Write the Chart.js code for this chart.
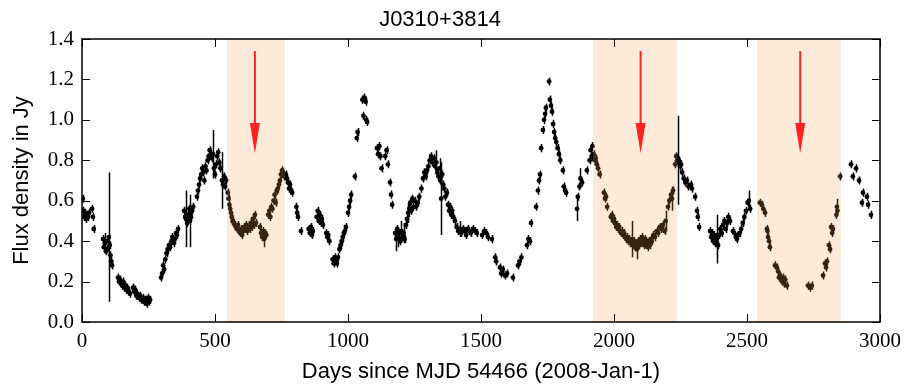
<!DOCTYPE html>
<html>
<head>
<meta charset="utf-8">
<script src="https://cdn.jsdelivr.net/npm/chart.js@4.4.0/dist/chart.umd.min.js"></script>
<style>
html,body{margin:0;padding:0;background:#fff;}
#wrap{width:906px;height:385px;}
</style>
</head>
<body>
<div id="wrap"><canvas id="c" width="906" height="385"></canvas></div>
<script>
const titleText = 'J0310+3814';
const xAxisLabel = 'Days since MJD 54466 (2008-Jan-1)';
const yAxisLabel = 'Flux density in Jy';
const xTickValues = [0, 500, 1000, 1500, 2000, 2500, 3000];
const yTickValues = [0.0, 0.2, 0.4, 0.6, 0.8, 1.0, 1.2, 1.4];

// [day, flux density in Jy]
const observations = [
  [3,0.61],[5,0.55],[8,0.52],[12,0.54],[15,0.51],[19,0.53],[23,0.52],[27,0.54],[38,0.56],[41,0.52],[44,0.46],
  [79,0.41],[82,0.37],[86,0.39],[90,0.35],[94,0.36],[97,0.40],[101,0.42],[104,0.38],[107,0.33],[110,0.30],[113,0.28],
  [135,0.22],[139,0.20],[143,0.21],[147,0.19],[151,0.18],[155,0.20],[159,0.17],[163,0.18],[167,0.16],[171,0.17],[175,0.15],[180,0.14],
  [192,0.17],[196,0.15],[200,0.16],[204,0.13],[208,0.14],[213,0.12],[218,0.13],[223,0.11],[228,0.12],[233,0.10],[238,0.11],[243,0.09],[248,0.12],[252,0.10],[256,0.11],
  [297,0.22],[301,0.24],[305,0.28],[309,0.26],[313,0.31],[318,0.34],[322,0.36],[327,0.38],[331,0.37],[336,0.40],[340,0.42],[345,0.39],[349,0.41],[353,0.44],[357,0.43],[361,0.46],
  [384,0.55],[388,0.52],[391,0.51],[395,0.49],[399,0.53],[403,0.56],[406,0.50],[410,0.52],[414,0.55],[418,0.57],
  [432,0.62],[436,0.65],[440,0.68],[444,0.71],[448,0.73],[452,0.76],[456,0.74],[460,0.70],[464,0.77],[468,0.75],[472,0.80],[476,0.82],[480,0.85],[484,0.83],[488,0.81],[492,0.83],[496,0.76],[500,0.73],[504,0.78],[508,0.82],[512,0.84],[516,0.79],[520,0.76],[526,0.70],[530,0.68],[534,0.72],[538,0.67],[542,0.70],
  [548,0.64],[551,0.61],[554,0.58],[557,0.56],[560,0.54],[563,0.52],[566,0.50],[570,0.49],[574,0.48],[578,0.47],[582,0.46],[586,0.48],[590,0.45],[594,0.44],[598,0.46],[602,0.43],[606,0.45],[610,0.47],[614,0.46],[618,0.48],[622,0.45],[626,0.47],[630,0.46],[634,0.49],[638,0.47],[642,0.51],[646,0.48],[650,0.53],[654,0.49],
  [669,0.47],[673,0.44],[677,0.42],[681,0.45],[685,0.41],[689,0.44],[693,0.43],
  [700,0.53],[704,0.55],[708,0.52],[712,0.57],[716,0.56],[720,0.60],[724,0.63],[728,0.59],[732,0.65],[736,0.66],[740,0.68],[744,0.70],[748,0.73],[752,0.75],[756,0.74],[760,0.72],
  [766,0.73],[770,0.71],[774,0.69],[778,0.66],[782,0.68],[786,0.65],[790,0.64],
  [806,0.57],[809,0.54],[812,0.52],[823,0.45],
  [852,0.46],[856,0.44],[860,0.47],[864,0.43],[868,0.45],[882,0.52],[886,0.55],[890,0.50],[894,0.53],[898,0.49],[902,0.51],[906,0.48],[918,0.44],[922,0.42],[926,0.43],[930,0.40],
  [942,0.31],[946,0.29],[950,0.32],[954,0.30],[958,0.29],[962,0.32],[968,0.36],[972,0.38],[976,0.40],[980,0.42],[984,0.44],[988,0.45],[992,0.47],[1000,0.54],[1004,0.57],[1008,0.60],[1012,0.63],
  [1026,0.72],[1033,0.91],[1036,0.94],[1054,1.10],[1058,1.02],[1062,1.11],[1066,1.09],[1068,1.00],[1072,0.99],
  [1109,0.86],[1113,0.83],[1118,0.87],[1122,0.82],[1126,0.76],[1140,0.82],[1145,0.85],[1150,0.78],[1158,0.69],[1162,0.63],[1166,0.58],
  [1177,0.44],[1181,0.41],[1185,0.46],[1189,0.42],[1193,0.44],[1197,0.40],[1201,0.45],[1205,0.42],[1209,0.44],[1213,0.41],
  [1218,0.48],[1222,0.51],[1226,0.54],[1230,0.56],[1234,0.59],[1238,0.55],[1242,0.61],[1246,0.57],[1250,0.60],[1256,0.57],[1262,0.59],[1268,0.62],
  [1276,0.66],[1282,0.71],[1287,0.74],[1292,0.72],[1297,0.75],[1302,0.77],[1307,0.80],[1312,0.82],[1317,0.79],[1322,0.81],[1327,0.77],[1332,0.79],[1336,0.74],[1340,0.72],[1344,0.76],[1347,0.70],[1350,0.61],[1354,0.73],[1358,0.68],[1362,0.66],[1366,0.62],[1372,0.64],[1376,0.58],[1380,0.55],[1384,0.57],[1388,0.53],[1392,0.55],[1396,0.52],[1402,0.50],[1408,0.47],[1414,0.45],[1420,0.46],[1426,0.44],[1432,0.46],[1438,0.45],[1444,0.43],[1450,0.46],[1456,0.45],[1462,0.44],[1470,0.46],[1478,0.45],[1484,0.44],
  [1504,0.43],[1512,0.45],[1520,0.44],[1526,0.42],[1541,0.41],[1553,0.32],[1557,0.30],[1571,0.27],[1576,0.24],[1582,0.26],[1590,0.23],[1598,0.24],[1620,0.22],[1639,0.28],[1645,0.30],[1652,0.32],
  [1673,0.38],[1678,0.41],[1684,0.40],[1688,0.49],[1707,0.57],[1714,0.65],[1718,0.70],[1722,0.73],[1726,0.86],[1733,0.95],[1737,1.00],[1741,1.03],[1744,1.06],[1756,1.19],[1759,1.10],[1763,1.07],[1767,1.04],[1771,0.98],[1775,0.94],[1779,0.91],[1783,0.89],[1788,0.86],[1793,0.83],[1798,0.80],[1808,0.75],[1811,0.67],[1816,0.65],[1820,0.64],
  [1861,0.56],[1864,0.62],[1870,0.67],[1874,0.71],[1880,0.69],[1898,0.75],[1908,0.80],[1912,0.85],[1916,0.82],[1919,0.87],
  [1923,0.83],[1927,0.80],[1931,0.81],[1935,0.78],[1940,0.76],[1946,0.73],[1962,0.64],[1966,0.61],[1970,0.62],[1974,0.57],[1988,0.52],[1992,0.53],[1996,0.50],[2000,0.51],[2004,0.49],[2008,0.47],[2012,0.48],[2016,0.46],[2020,0.47],[2026,0.44],[2030,0.45],[2034,0.43],[2038,0.44],[2042,0.42],[2046,0.41],[2050,0.42],[2054,0.40],[2058,0.41],[2062,0.39],[2067,0.41],[2071,0.38],[2075,0.40],[2079,0.37],[2083,0.39],[2086,0.36],[2090,0.40],[2094,0.38],[2098,0.41],[2102,0.39],[2106,0.42],[2110,0.40],[2114,0.38],[2118,0.41],[2122,0.39],[2126,0.37],[2130,0.40],[2134,0.38],[2138,0.41],[2142,0.40],[2148,0.43],[2154,0.42],[2160,0.45],[2166,0.44],[2172,0.47],[2178,0.46],[2184,0.48],[2190,0.45],[2194,0.50],[2203,0.57],[2208,0.60],[2214,0.63],[2218,0.61],[2222,0.65],[2230,0.78],[2234,0.82],[2237,0.80],
  [2241,0.80],[2244,0.80],[2248,0.77],[2252,0.78],[2256,0.74],[2262,0.71],[2268,0.69],[2274,0.70],[2280,0.67],[2289,0.68],[2293,0.66],[2305,0.62],[2312,0.55],[2315,0.52],[2320,0.47],
  [2361,0.45],[2365,0.42],[2369,0.44],[2373,0.40],[2377,0.43],[2381,0.39],[2385,0.42],[2387,0.41],[2391,0.38],[2395,0.43],[2400,0.46],[2405,0.44],[2410,0.48],[2415,0.50],[2420,0.46],[2425,0.49],[2430,0.52],[2436,0.50],[2447,0.45],[2452,0.44],[2458,0.42],[2462,0.41],[2467,0.43],[2472,0.44],[2478,0.46],[2484,0.49],[2490,0.52],[2496,0.55],[2502,0.59],[2507,0.60],[2512,0.56],
  [2548,0.59],[2556,0.58],[2561,0.56],[2568,0.54],[2575,0.46],[2577,0.45],[2579,0.42],[2583,0.40],[2586,0.37],[2605,0.28],[2612,0.27],[2617,0.25],[2620,0.22],[2624,0.23],[2628,0.21],[2632,0.20],[2636,0.22],[2639,0.19],[2644,0.21],[2650,0.18],
  [2729,0.18],[2737,0.17],[2744,0.18],[2786,0.23],[2793,0.29],[2797,0.27],[2801,0.30],[2808,0.38],[2812,0.36],[2816,0.47],[2820,0.44],[2823,0.46],[2836,0.53],[2838,0.57],[2840,0.55],[2850,0.72],
  [2891,0.78],[2898,0.72],[2910,0.76],[2921,0.70],[2932,0.59],[2936,0.64],[2951,0.62],[2955,0.58],[2966,0.53]
];

// [day, error in Jy] for points with large error bars; others use defaultError
const largeErrors = [
  [86,0.05],[101,0.32],[391,0.14],[406,0.13],[492,0.12],[526,0.14],[685,0.04],
  [1181,0.06],[1189,0.05],[1201,0.05],[1209,0.05],[1226,0.05],[1230,0.04],[1332,0.06],[1344,0.05],[1350,0.18],[1420,0.04],
  [1861,0.06],[1874,0.05],[2067,0.09],[2086,0.05],[2194,0.05],[2218,0.06],[2241,0.22],[2387,0.12],[2507,0.05],[2838,0.04]
];
const defaultError = 0.02;

// shaded day ranges and arrow markers (day)
const shadedSpans = [[545,763],[1921,2238],[2538,2853]];
const arrowDays = [650, 2100, 2700];
const arrowFlux = { top: 1.34, headStart: 0.985, tip: 0.835 };

const errorMap = new Map(largeErrors);
const errorFor = d => errorMap.has(d) ? errorMap.get(d) : defaultError;

const decorPlugin = {
  id: 'decor',
  beforeDatasetsDraw(chart) {
    const { ctx, scales: { x, y } } = chart;
    ctx.save();
    ctx.strokeStyle = '#000';
    ctx.lineWidth = 1.5;
    ctx.beginPath();
    observations.forEach(([d, f]) => {
      const e = errorFor(d);
      const px = Math.round(x.getPixelForValue(d)) + 0.5;
      ctx.moveTo(px, y.getPixelForValue(f - e));
      ctx.lineTo(px, y.getPixelForValue(f + e));
    });
    ctx.stroke();
    ctx.restore();
  },
  afterDatasetsDraw(chart) {
    const { ctx, chartArea: a, scales: { x, y } } = chart;
    ctx.save();
    ctx.fillStyle = 'rgba(250,160,80,0.22)';
    shadedSpans.forEach(([s, e]) => {
      const x0 = x.getPixelForValue(s), x1 = x.getPixelForValue(e);
      ctx.fillRect(x0, a.top, x1 - x0, a.bottom - a.top);
    });
    ctx.strokeStyle = '#ff2424';
    ctx.fillStyle = '#ff2424';
    ctx.lineWidth = 2;
    arrowDays.forEach(d => {
      const px = x.getPixelForValue(d);
      const yTop = y.getPixelForValue(arrowFlux.top);
      const yHead = y.getPixelForValue(arrowFlux.headStart);
      const yTip = y.getPixelForValue(arrowFlux.tip);
      ctx.beginPath();
      ctx.moveTo(px, yTop);
      ctx.lineTo(px, yHead + 2);
      ctx.stroke();
      ctx.beginPath();
      ctx.moveTo(px - 5, yHead);
      ctx.lineTo(px + 5, yHead);
      ctx.lineTo(px, yTip);
      ctx.closePath();
      ctx.fill();
    });
    ctx.strokeStyle = '#000';
    ctx.lineWidth = 1.5;
    ctx.strokeRect(a.left, a.top, a.right - a.left, a.bottom - a.top);
    ctx.lineWidth = 1;
    const tl = 8;
    ctx.beginPath();
    x.ticks.forEach(t => {
      const px = Math.round(x.getPixelForValue(t.value)) + 0.5;
      ctx.moveTo(px, a.bottom); ctx.lineTo(px, a.bottom - tl);
      ctx.moveTo(px, a.top); ctx.lineTo(px, a.top + tl);
    });
    y.ticks.forEach(t => {
      const py = Math.round(y.getPixelForValue(t.value)) + 0.5;
      ctx.moveTo(a.left, py); ctx.lineTo(a.left + tl, py);
      ctx.moveTo(a.right, py); ctx.lineTo(a.right - tl, py);
    });
    ctx.stroke();
    ctx.restore();
  }
};

const sansFont = "'Liberation Sans', Arial, sans-serif";
const serifFont = "'Liberation Serif', 'Times New Roman', serif";

new Chart(document.getElementById('c'), {
  type: 'scatter',
  data: {
    datasets: [{
      label: 'Flux density',
      data: observations.map(([d, f]) => ({ x: d, y: f })),
      backgroundColor: '#000',
      borderColor: '#000',
      borderWidth: 0,
      pointRadius: 2.4,
      pointHoverRadius: 2.4
    }]
  },
  options: {
    responsive: false,
    animation: false,
    devicePixelRatio: 1,
    layout: { padding: { top: 0, right: 26, bottom: 0, left: 0 } },
    plugins: {
      legend: { display: false },
      tooltip: { enabled: false },
      title: {
        display: true,
        text: titleText,
        color: '#000',
        font: { family: sansFont, size: 22, weight: 'normal' },
        padding: { top: 7, bottom: 5.6 }
      }
    },
    scales: {
      x: {
        type: 'linear',
        min: 0, max: 3000,
        afterBuildTicks: s => { s.ticks = xTickValues.map(v => ({ value: v })); },
        afterFit: s => { s.height = 63; s.paddingLeft = 0; s.paddingRight = 0; },
        grid: { display: false, drawTicks: false },
        border: { display: false },
        ticks: {
          color: '#000',
          padding: 7,
          font: { family: serifFont, size: 21 },
          maxRotation: 0,
          callback: v => String(v)
        },
        title: {
          display: true,
          text: xAxisLabel,
          color: '#000',
          font: { family: sansFont, size: 22 },
          padding: { top: 2, bottom: 0 }
        }
      },
      y: {
        type: 'linear',
        min: 0, max: 1.4,
        afterBuildTicks: s => { s.ticks = yTickValues.map(v => ({ value: v })); },
        afterFit: s => { s.width = 82; },
        grid: { display: false, drawTicks: false },
        border: { display: false },
        ticks: {
          color: '#000',
          padding: 8,
          font: { family: serifFont, size: 21 },
          callback: v => Number(v).toFixed(1)
        },
        title: {
          display: true,
          text: yAxisLabel,
          color: '#000',
          font: { family: sansFont, size: 22 },
          padding: { top: 9, bottom: 0 }
        }
      }
    }
  },
  plugins: [decorPlugin]
});
</script>
</body>
</html>
